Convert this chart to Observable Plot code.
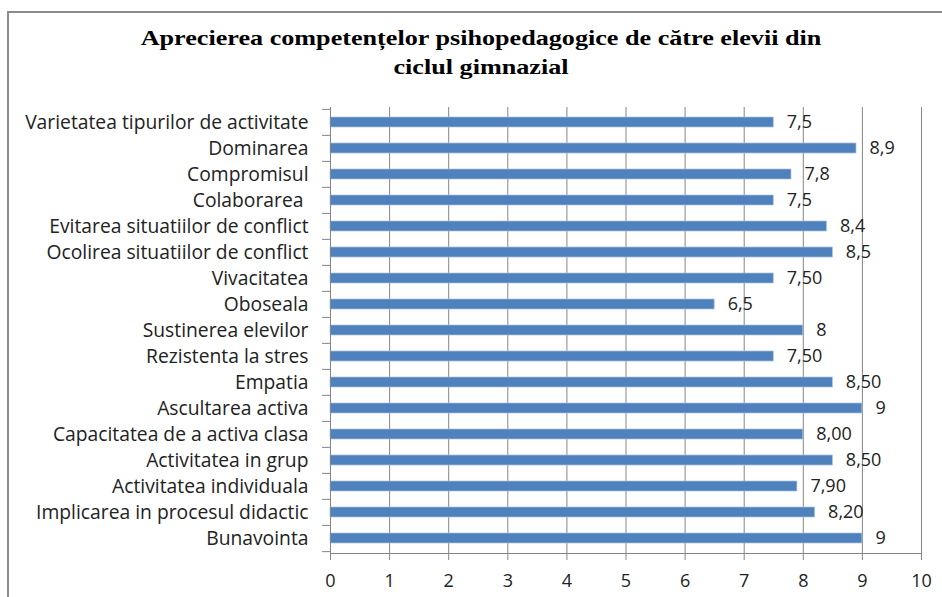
<!DOCTYPE html>
<html>
<head>
<meta charset="utf-8">
<script src="https://cdn.jsdelivr.net/npm/d3@7"></script>
<script src="https://cdn.jsdelivr.net/npm/@observablehq/plot@0.6"></script>
<style>
  html, body { margin: 0; padding: 0; background: #fff; }
  #wrap { position: relative; width: 942px; height: 597px; overflow: hidden; }
  #frame { position: absolute; left: 7px; top: 11px; width: 1000px; height: 700px; border: 2px solid #8c8c8c; box-sizing: border-box; }
  #title { position: absolute; left: 0; top: 24px; width: 962px; text-align: center;
    font-family: "Liberation Serif", serif; font-weight: bold; font-size: 21px; line-height: 29px; color: #000;
    transform: scaleX(1.245); transform-origin: 481px 0; }
  #chart { position: absolute; left: 0; top: 90px; }
</style>
</head>
<body>
<div id="wrap">
  <div id="frame"></div>
  <div id="title">Aprecierea competențelor psihopedagogice de către elevii din<br>ciclul gimnazial</div>
  <div id="chart"></div>
</div>
<script>
const categories = [
  "Varietatea tipurilor de activitate",
  "Dominarea",
  "Compromisul",
  "Colaborarea\u00a0",
  "Evitarea situatiilor de conflict",
  "Ocolirea situatiilor de conflict",
  "Vivacitatea",
  "Oboseala",
  "Sustinerea elevilor",
  "Rezistenta la stres",
  "Empatia",
  "Ascultarea activa",
  "Capacitatea de a activa clasa",
  "Activitatea in grup",
  "Activitatea individuala",
  "Implicarea in procesul didactic",
  "Bunavointa"
];
const values = [7.5, 8.9, 7.8, 7.5, 8.4, 8.5, 7.5, 6.5, 8, 7.5, 8.5, 9, 8, 8.5, 7.9, 8.2, 9];
const valueLabels = ["7,5", "8,9", "7,8", "7,5", "8,4", "8,5", "7,50", "6,5", "8", "7,50", "8,50", "9", "8,00", "8,50", "7,90", "8,20", "9"];
const xTicks = [0, 1, 2, 3, 4, 5, 6, 7, 8, 9, 10];

const data = categories.map((c, i) => ({cat: c, value: values[i], label: valueLabels[i]}));

const height = 507, marginTop = 17, marginBottom = 44;
const step = (height - marginTop - marginBottom) / categories.length;
const font = "'Open Sans', Lato, sans-serif";
const gray = "#868686";

const chart = Plot.plot({
  width: 942,
  height,
  marginLeft: 330,
  marginRight: 21,
  marginTop,
  marginBottom,
  style: {fontFamily: font, fontSize: "18px", color: "#222", background: "transparent"},
  x: {domain: [0, 10], ticks: xTicks},
  y: {domain: categories, paddingInner: 0.62, paddingOuter: 0.31},
  marks: [
    Plot.gridX(xTicks.filter(d => d > 0), {stroke: gray, strokeOpacity: 1, strokeWidth: 1}),
    Plot.barX(data, {x: "value", y: "cat", fill: "#4F81BD", stroke: "#a9c1e0", strokeWidth: 0.7}),
    Plot.ruleX([0], {stroke: gray, strokeWidth: 1}),
    Plot.frame({anchor: "bottom", stroke: gray, strokeOpacity: 1}),
    Plot.ruleY(data, {y: "cat", x1: 0, x2: 0, dy: -step / 2, stroke: gray, insetLeft: -8}),
    Plot.ruleY([categories[categories.length - 1]], {x1: 0, x2: 0, dy: step / 2, stroke: gray, insetLeft: -8}),
    Plot.text(data, {x: "value", y: "cat", text: "label", textAnchor: "start", dx: 13, fontSize: 18, fill: "#222"}),
    Plot.axisX({ticks: xTicks, tickSize: 7, tickPadding: 14, stroke: gray, fontSize: 18, label: null, tickFormat: d => String(d)}),
    Plot.axisY({tickSize: 0, tickPadding: 22, fontSize: 19.3, label: null})
  ]
});
document.getElementById("chart").appendChild(chart);
</script>
</body>
</html>
